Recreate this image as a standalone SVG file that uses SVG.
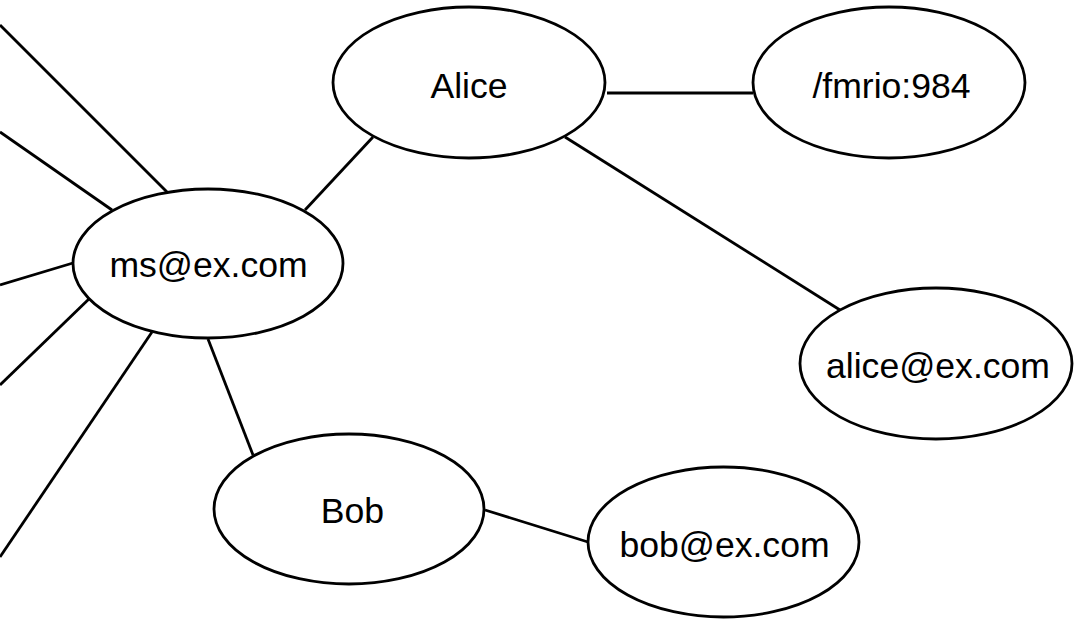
<svg xmlns="http://www.w3.org/2000/svg" width="1089" height="638" viewBox="0 0 1089 638">
<style>
.n ellipse{fill:#fff;stroke:#000;stroke-width:2.8}
.n text{font-family:"Liberation Sans",Arial,sans-serif;font-size:35.6px;fill:#000;text-anchor:middle}
#edges line{stroke:#000;stroke-width:2.8}
</style>
<rect width="1089" height="638" fill="#fff"/>
<g id="edges">
<line x1="0" y1="25" x2="168" y2="193"/>
<line x1="0" y1="132" x2="112" y2="210"/>
<line x1="0" y1="285" x2="73" y2="263"/>
<line x1="0" y1="385" x2="91" y2="297"/>
<line x1="0" y1="557" x2="152" y2="332"/>
<line x1="305" y1="210" x2="373" y2="137"/>
<line x1="208" y1="339" x2="253" y2="455"/>
<line x1="607" y1="93" x2="753" y2="93"/>
<line x1="565" y1="137" x2="840" y2="310"/>
<line x1="485" y1="510" x2="588" y2="542"/>
</g>
<g id="ms" class="n"><ellipse cx="208" cy="263.5" rx="135" ry="74.5"/><text x="208.5" y="277">ms@ex.com</text></g>
<g id="alice" class="n"><ellipse cx="469" cy="82.5" rx="136" ry="75.5"/><text x="469" y="98">Alice</text></g>
<g id="fmrio" class="n"><ellipse cx="889" cy="82.5" rx="136" ry="75.5"/><text x="891.5" y="98">/fmrio:984</text></g>
<g id="aliceemail" class="n"><ellipse cx="936" cy="363.5" rx="136" ry="75.5"/><text x="938" y="378">alice@ex.com</text></g>
<g id="bob" class="n"><ellipse cx="349" cy="509" rx="135" ry="75"/><text x="352.5" y="523">Bob</text></g>
<g id="bobemail" class="n"><ellipse cx="723.5" cy="542" rx="135.5" ry="75"/><text x="724.5" y="557">bob@ex.com</text></g>
</svg>
